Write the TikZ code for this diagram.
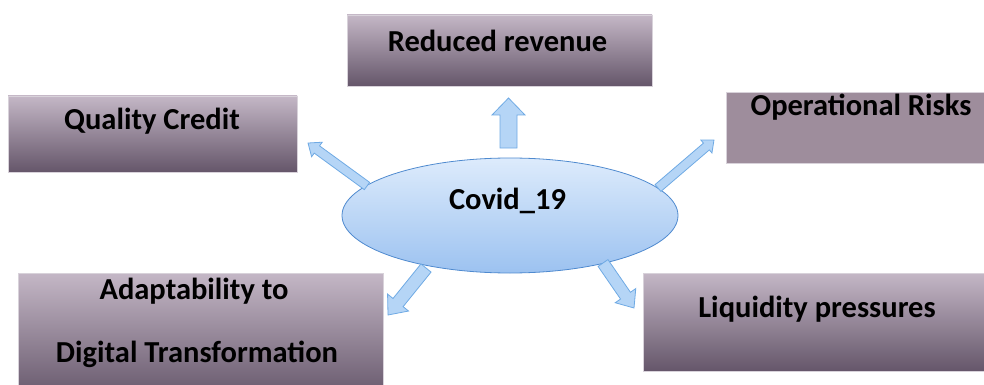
\documentclass[tikz,border=0pt]{standalone}
\usepackage{fontspec}
\setmainfont{Carlito}
\usetikzlibrary{calc,shapes.geometric}
\definecolor{boxtop}{HTML}{C4B7C6}
\definecolor{boxbot}{HTML}{65566A}
\definecolor{boxflat}{HTML}{9E8D9C}
\definecolor{boxedge}{HTML}{D8D2DA}
\definecolor{elltop}{HTML}{DDEBFC}
\definecolor{ellbot}{HTML}{9CC2F0}
\definecolor{ellline}{HTML}{4F8ACF}
\definecolor{arrfill}{HTML}{B5D5F6}
\definecolor{arrline}{HTML}{6FAAE4}
\tikzset{
  boxshade/.style={rectangle, inner sep=0pt, draw=boxedge, line width=0.6pt, top color=boxtop, bottom color=boxbot},
  boxflatstyle/.style={rectangle, inner sep=0pt, draw=boxedge, line width=0.6pt, fill=boxflat},
  lbl/.style={inner sep=0pt, anchor=base, font=\fontsize{30.5}{36}\selectfont\bfseries},
  blockarr/.style={draw=arrline, line width=0.8pt, fill=arrfill, line join=miter},
}
\newcommand\blockarrow[5]{%
  \path let \p1=($(#2)-(#1)$) in \pgfextra{%
    \pgfmathsetmacro\myarrang{atan2(\y1,\x1)}%
    \pgfmathsetmacro\myarrlen{veclen(\x1,\y1)}%
    \global\let\myarrangG\myarrang
    \global\let\myarrlenG\myarrlen};
  \begin{scope}[shift={(#1)}, rotate=\myarrangG]
    \draw[blockarr] (0pt,-#3) -- ({\myarrlenG pt-#5},-#3) -- ({\myarrlenG pt-#5},-#4)
      -- (\myarrlenG pt,0pt) -- ({\myarrlenG pt-#5},#4) -- ({\myarrlenG pt-#5},#3)
      -- (0pt,#3) -- cycle;
  \end{scope}}
\begin{document}
\begin{tikzpicture}[x=1pt,y=-1pt]
\useasboundingbox (0,0) rectangle (984,385);
\clip (0,0) rectangle (984,385);
% boxes
\node[boxshade, minimum width=305pt, minimum height=71pt] (rr) at (499.5,50.5) {};
\node[boxshade, minimum width=289pt, minimum height=76pt] (qc) at (152.5,134) {};
\node[boxflatstyle, minimum width=260pt, minimum height=71pt] (op) at (856,127.5) {};
\node[boxshade, minimum width=365pt, minimum height=127pt] (ad) at (200.5,336.5) {};
\node[boxshade, minimum width=343pt, minimum height=98pt] (lq) at (814.5,322) {};
% labels
\node[lbl] (rrt) at (497.5,52) {Reduced revenue};
\node[lbl] (qct) at (152,129) {Quality Credit};
\node[lbl] (opt) at (861,116) {Operational Risks};
\node[lbl] (adt1) at (194,299) {Adaptability to};
\node[lbl] (adt2) at (197,362) {Digital Transformation};
\node[lbl] (lqt) at (817,317) {Liquidity pressures};
% central ellipse
\node[ellipse, draw=ellline, line width=0.8pt, top color=elltop, bottom color=ellbot,
      minimum width=336pt, minimum height=115pt, inner sep=0pt] (cov) at (510,215.5) {};
\node[lbl] (covt) at (507.5,209) {Covid\_19};
% arrow end points
\coordinate (upTail) at (508.5,148);
\coordinate (upTip) at (508.5,98);
\coordinate (ulTail) at (367,186);
\coordinate (ulTip) at (308,143);
\coordinate (urTail) at (658,188);
\coordinate (urTip) at (714,140);
\coordinate (llTail) at (426,268);
\coordinate (llTip) at (388,315);
\coordinate (lrTail) at (603,263);
\coordinate (lrTip) at (634,308);
% arrows
\blockarrow{upTail}{upTip}{8.5pt}{16.5pt}{17pt}
\blockarrow{ulTail}{ulTip}{4.5pt}{9pt}{11pt}
\blockarrow{urTail}{urTip}{4.5pt}{8.5pt}{10pt}
\blockarrow{llTail}{llTip}{6.5pt}{13.5pt}{16pt}
\blockarrow{lrTail}{lrTip}{6pt}{12.5pt}{15pt}
\end{tikzpicture}
\end{document}
